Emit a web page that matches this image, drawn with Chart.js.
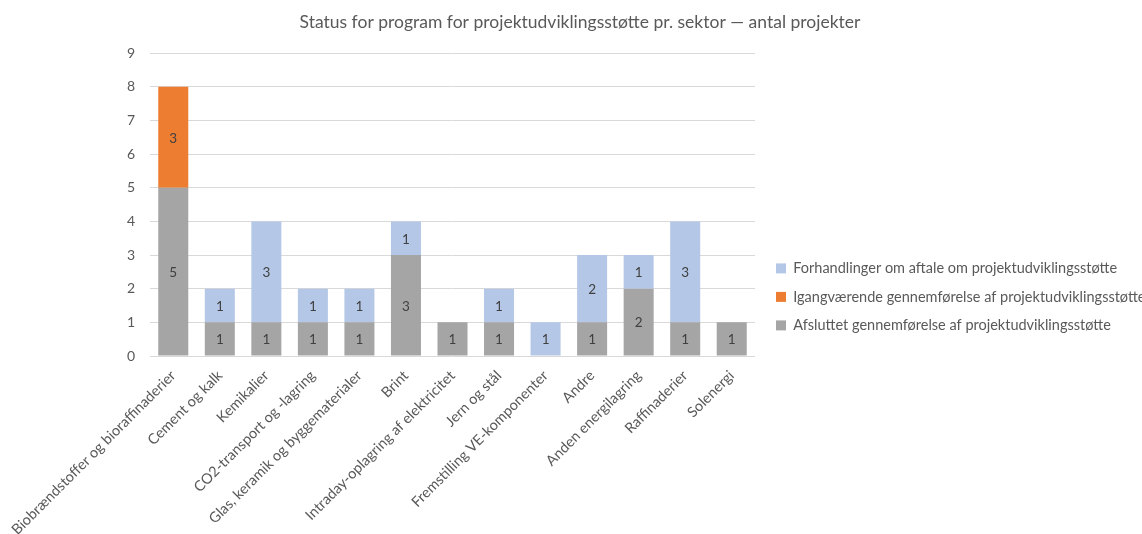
<!DOCTYPE html>
<html>
<head>
<meta charset="utf-8">
<script src="https://cdn.jsdelivr.net/npm/chart.js@4/dist/chart.umd.min.js"></script>
<style>
html,body{margin:0;padding:0;background:#fff;}
#wrap{width:1142px;height:534px;position:relative;}
</style>
</head>
<body>
<div id="wrap"><canvas id="c"></canvas></div>
<script>
const categories = [
  "Biobrændstoffer og bioraffinaderier",
  "Cement og kalk",
  "Kemikalier",
  "CO2-transport og -lagring",
  "Glas, keramik og byggematerialer",
  "Brint",
  "Intraday-oplagring af elektricitet",
  "Jern og stål",
  "Fremstilling VE-komponenter",
  "Andre",
  "Anden energilagring",
  "Raffinaderier",
  "Solenergi"
];
const afsluttet      = [5, 1, 1, 1, 1, 3, 1, 1, 0, 1, 2, 1, 1];
const igangvaerende  = [3, 0, 0, 0, 0, 0, 0, 0, 0, 0, 0, 0, 0];
const forhandlinger  = [0, 1, 3, 1, 1, 1, 0, 1, 1, 2, 1, 3, 0];
const yTicks = [0, 1, 2, 3, 4, 5, 6, 7, 8, 9];
const titleText = "Status for program for projektudviklingsstøtte pr. sektor — antal projekter";

const FONT = "Lato, 'Open Sans', sans-serif";
const TXT = "#595959";

const segmentLabels = {
  id: 'segmentLabels',
  afterLayout(chart) {
    if (chart.titleBlock) { chart.titleBlock.left += 18; }
  },
  afterDatasetsDraw(chart) {
    const ctx = chart.ctx;
    ctx.save();
    ctx.font = "13.5px " + FONT;
    ctx.fillStyle = "#404040";
    ctx.textAlign = "center";
    ctx.textBaseline = "middle";
    chart.data.datasets.forEach((ds, di) => {
      const meta = chart.getDatasetMeta(di);
      meta.data.forEach((bar, i) => {
        const v = ds.data[i];
        if (!v) return;
        const p = bar.getProps(['x', 'y', 'base'], true);
        ctx.fillText(String(v), p.x, (p.y + p.base) / 2 + 1);
      });
    });
    ctx.restore();
  }
};

new Chart(document.getElementById('c'), {
  type: 'bar',
  data: {
    labels: categories,
    datasets: [
      { label: "Afsluttet gennemførelse af projektudviklingsstøtte", data: afsluttet, backgroundColor: "#A5A5A5" },
      { label: "Igangværende gennemførelse af projektudviklingsstøtte", data: igangvaerende, backgroundColor: "#ED7D31" },
      { label: "Forhandlinger om aftale om projektudviklingsstøtte", data: forhandlinger, backgroundColor: "#B4C7E7" }
    ]
  },
  options: {
    responsive: true,
    maintainAspectRatio: false,
    animation: false,
    categoryPercentage: 1.0,
    barPercentage: 0.645,
    layout: { padding: { top: 8, left: 0, right: 0, bottom: 0 } },
    plugins: {
      title: {
        display: true, text: titleText, color: TXT,
        font: { family: FONT, size: 17.5, weight: 'normal' },
        padding: { top: 4, bottom: 20.1 }
      },
      legend: {
        position: 'right',
        reverse: true,
        maxWidth: 380,
        title: { display: true, text: ' ', font: { size: 14 }, padding: { top: 35, bottom: 0 } },
        labels: {
          color: TXT, boxWidth: 10, boxHeight: 10, padding: 14,
          font: { family: FONT, size: 14.5 }
        }
      },
      tooltip: { enabled: false }
    },
    scales: {
      x: {
        stacked: true,
        grid: { display: false },
        border: { display: false },
        ticks: { color: TXT, font: { family: FONT, size: 14.5 }, minRotation: 45, maxRotation: 45, autoSkip: false },
        afterFit(scale) { scale.height = 178; scale.paddingLeft = 0; scale.paddingRight = 0; }
      },
      y: {
        stacked: true,
        min: 0, max: 9,
        afterBuildTicks(scale) { scale.ticks = yTicks.map(v => ({ value: v })); },
        grid: { color: "#D9D9D9", drawTicks: false },
        border: { display: false },
        ticks: { color: TXT, font: { family: FONT, size: 14 }, padding: 15 },
        afterFit(scale) { scale.width = 150; }
      },
      gap: {
        position: 'right',
        display: true,
        min: 0, max: 1,
        grid: { display: false },
        border: { display: false },
        ticks: { display: false },
        afterFit(scale) { scale.width = 7; }
      }
    }
  },
  plugins: [segmentLabels]
});
</script>
</body>
</html>
